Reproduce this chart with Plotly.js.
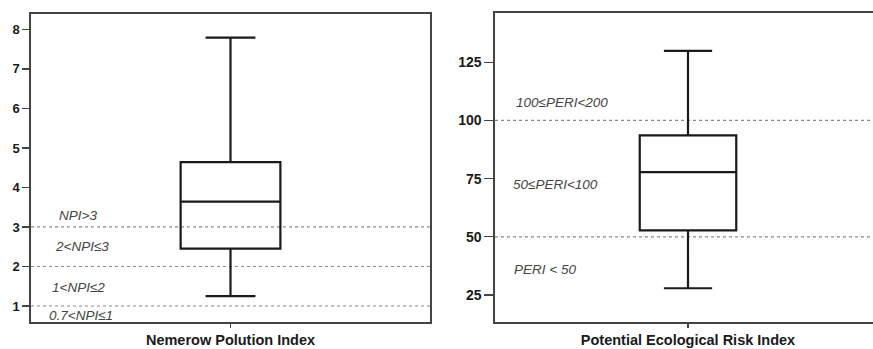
<!DOCTYPE html>
<html><head><meta charset="utf-8">
<script src="https://cdn.plot.ly/plotly-3.0.1.min.js"></script>
<style>html,body{margin:0;padding:0;overflow:hidden;background:#fff}#c{width:882px;height:349px}</style>
</head><body><div id="c"></div>
<script>
// Left panel: Nemerow Pollution Index box summary
const npiCategory = ["Nemerow Polution Index"];
const npiLower = [1.25], npiQ1 = [2.45], npiMedian = [3.64], npiQ3 = [4.64], npiUpper = [7.79];
const npiTicks = [1, 2, 3, 4, 5, 6, 7, 8];
const npiThresholds = [1, 2, 3];
const npiLabels = ["NPI>3", "2<NPI≤3", "1<NPI≤2", "0.7<NPI≤1"];
const npiLabelY = [3.28, 2.51, 1.47, 0.76];

// Right panel: Potential Ecological Risk Index box summary
const periCategory = ["Potential Ecological Risk Index"];
const periLower = [27.9], periQ1 = [52.8], periMedian = [77.8], periQ3 = [93.6], periUpper = [129.9];
const periTicks = [25, 50, 75, 100, 125];
const periThresholds = [50, 100];
const periLabels = ["100≤PERI<200", "50≤PERI<100", "PERI < 50"];
const periLabelY = [107.6, 72.5, 36];

const bold = a => a.map(v => "<b>" + v + "</b>");
const boxLine = {color: "#1a1a1a", width: 2.2};
const traces = [
  {type: "box", x: npiCategory, lowerfence: npiLower, q1: npiQ1, median: npiMedian, q3: npiQ3, upperfence: npiUpper,
   xaxis: "x", yaxis: "y", width: 0.25, whiskerwidth: 0.5, fillcolor: "rgba(0,0,0,0)", line: boxLine, hoverinfo: "skip", boxpoints: false},
  {type: "box", x: periCategory, lowerfence: periLower, q1: periQ1, median: periMedian, q3: periQ3, upperfence: periUpper,
   xaxis: "x2", yaxis: "y2", width: 0.25, whiskerwidth: 0.5, fillcolor: "rgba(0,0,0,0)", line: boxLine, hoverinfo: "skip", boxpoints: false}
];

const dotLine = {color: "#8a8a8a", width: 1.2, dash: "dot"};
const shapes = [];
npiThresholds.forEach(v => shapes.push({type: "line", xref: "x domain", yref: "y", x0: 0, x1: 1, y0: v, y1: v, line: dotLine, layer: "below"}));
periThresholds.forEach(v => shapes.push({type: "line", xref: "x2 domain", yref: "y2", x0: 0, x1: 1, y0: v, y1: v, line: dotLine, layer: "below"}));

const annFont = {family: "Liberation Sans, Arial, sans-serif", size: 13.5, color: "#444", style: "italic"};
const annX1 = [0.118, 0.128, 0.118, 0.125];
const annX2 = [0.173, 0.157, 0.129];
const annotations = [];
npiLabels.forEach((t, i) => annotations.push({xref: "x domain", yref: "y", x: annX1[i], y: npiLabelY[i], xanchor: "center", yanchor: "middle", text: t, showarrow: false, font: annFont}));
periLabels.forEach((t, i) => annotations.push({xref: "x2 domain", yref: "y2", x: annX2[i], y: periLabelY[i], xanchor: "center", yanchor: "middle", text: t, showarrow: false, font: annFont}));

const axBase = {showline: true, linecolor: "#444", linewidth: 1.6, mirror: true, showgrid: false, zeroline: false,
  ticks: "outside", tickcolor: "#444", tickwidth: 1.2, fixedrange: true};
const W = 882, H = 349;
const layout = {
  width: W, height: H, margin: {l: 0, r: 0, t: 0, b: 0}, paper_bgcolor: "#fff", plot_bgcolor: "#fff", showlegend: false,
  font: {family: "Liberation Sans, Arial, sans-serif", color: "#1a1a1a"},
  xaxis: Object.assign({}, axBase, {domain: [31 / W, 430 / W], anchor: "y", type: "category", range: [-0.5, 0.5], ticklen: 4,
    tickvals: npiCategory, ticktext: bold(npiCategory), tickfont: {size: 14.5, color: "#1a1a1a"}}),
  yaxis: Object.assign({}, axBase, {domain: [(H - 322) / H, (H - 14) / H], anchor: "x", range: [0.595, 8.39], ticklen: 7,
    tickvals: npiTicks, ticktext: bold(npiTicks), tickfont: {size: 13, color: "#1a1a1a"}}),
  xaxis2: Object.assign({}, axBase, {domain: [495 / W, 881 / W], anchor: "y2", type: "category", range: [-0.5, 0.5], ticklen: 4,
    tickvals: periCategory, ticktext: bold(periCategory), tickfont: {size: 14.5, color: "#1a1a1a"}}),
  yaxis2: Object.assign({}, axBase, {domain: [(H - 322) / H, (H - 12.7) / H], anchor: "x2", range: [13.4, 146.3], ticklen: 9,
    tickvals: periTicks, ticktext: bold(periTicks), tickfont: {size: 14, color: "#1a1a1a"}}),
  shapes: shapes, annotations: annotations
};
Plotly.newPlot("c", traces, layout, {staticPlot: true, displayModeBar: false});
</script></body></html>
